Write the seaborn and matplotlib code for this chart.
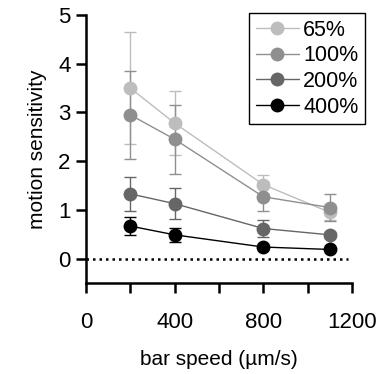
import numpy as np
import pandas as pd
import matplotlib
matplotlib.use("Agg")
import matplotlib.pyplot as plt
import seaborn as sns

speeds = [200, 400, 800, 1100]
groups = ["65%", "100%", "200%", "400%"]
means = {
    "65%": [3.50, 2.78, 1.52, 0.95],
    "100%": [2.95, 2.45, 1.27, 1.05],
    "200%": [1.33, 1.13, 0.62, 0.49],
    "400%": [0.67, 0.49, 0.24, 0.19],
}
errs = {
    "65%": [1.15, 0.66, 0.20, 0.15],
    "100%": [0.90, 0.71, 0.30, 0.27],
    "200%": [0.35, 0.32, 0.18, 0.05],
    "400%": [0.19, 0.15, 0.05, 0.04],
}
colors = ["#bdbdbd", "#8f8f8f", "#666666", "#000000"]
xticks = [0, 400, 800, 1200]
yticks = [0, 1, 2, 3, 4, 5]

rows = []
for g in groups:
    for s, m, e in zip(speeds, means[g], errs[g]):
        rows.append({"speed": s, "value": m, "err": e, "group": g})
df = pd.DataFrame(rows)

sns.set_style("ticks")
plt.rcParams["font.family"] = ["Liberation Sans", "DejaVu Sans"]
plt.rcParams["text.color"] = "black"
plt.rcParams["axes.labelcolor"] = "black"
plt.rcParams["xtick.color"] = "black"
plt.rcParams["ytick.color"] = "black"
plt.rcParams["axes.edgecolor"] = "black"

fig = plt.figure(figsize=(3.77, 3.74), dpi=100)
ax = fig.add_axes([0.228, 0.243, 0.706, 0.717])

palette = dict(zip(groups, colors))
for g in groups:
    sub = df[df.group == g]
    ax.errorbar(sub.speed, sub.value, yerr=sub.err, fmt="none",
                ecolor=palette[g], elinewidth=1.0, capsize=4.5, capthick=1.0, zorder=2)

sns.lineplot(data=df, x="speed", y="value", hue="group", hue_order=groups,
             palette=palette, marker="o", markersize=10, markeredgewidth=0,
             linewidth=1.0, errorbar=None, ax=ax, zorder=3)

ax.axhline(0, color="black", linestyle=(0, (1, 1.6)), linewidth=1.8, xmin=0, xmax=0.985, zorder=1)

ax.set_xlim(0, 1200)
ax.set_ylim(-0.5, 5)
ax.set_xticks(xticks)
ax.set_xticks([200, 600, 1000], minor=True)
ax.set_yticks(yticks)
ax.tick_params(axis="both", which="major", length=7, width=1.8, labelsize=16, pad=14)
ax.tick_params(axis="y", pad=4)
ax.tick_params(axis="x", which="minor", length=7, width=1.8)
for sp in ["left", "bottom"]:
    ax.spines[sp].set_linewidth(1.8)
for sp in ["top", "right"]:
    ax.spines[sp].set_visible(False)

ax.set_xlabel("bar speed (µm/s)", fontsize=15, labelpad=12)
ax.set_ylabel("motion sensitivity", fontsize=15, labelpad=8)

handles, labels = ax.get_legend_handles_labels()
leg = ax.legend(handles, labels, loc="upper right", bbox_to_anchor=(0.968, 0.965),
                bbox_transform=fig.transFigure, frameon=True, fancybox=False,
                fontsize=15.5, handlelength=2.0, handletextpad=0.2, borderpad=0.3,
                labelspacing=0.22, borderaxespad=0)
leg.get_frame().set_edgecolor("black")
leg.get_frame().set_linewidth(1.0)
leg.get_frame().set_alpha(1)

fig.savefig("out.png", dpi=100)
